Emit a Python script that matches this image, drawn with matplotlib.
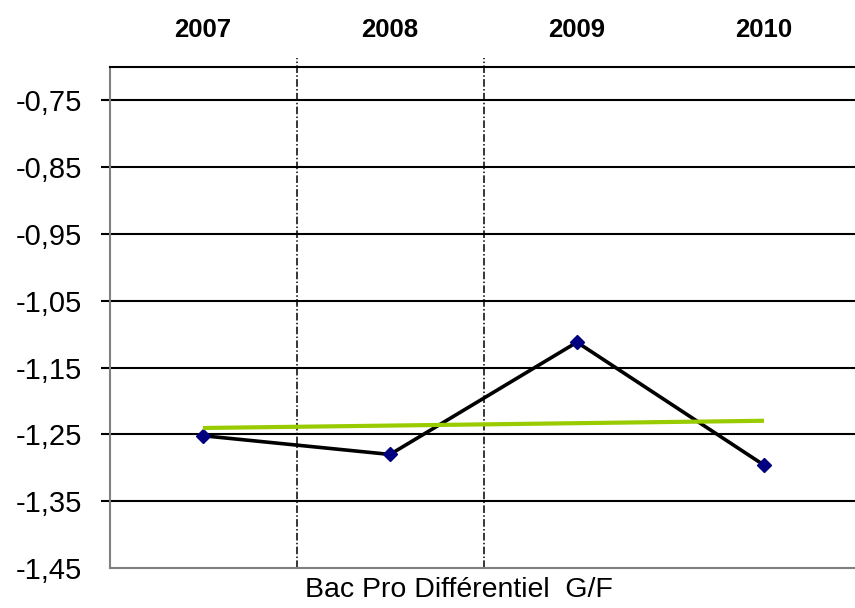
import numpy as np
import matplotlib
matplotlib.use("Agg")
from matplotlib import pyplot as plt
from matplotlib.ticker import FuncFormatter

plt.rcParams['font.family'] = ['Liberation Sans', 'DejaVu Sans']

years = ['2007', '2008', '2009', '2010']
differentiel = [-1.252, -1.280, -1.112, -1.296]
y_ticks = [-0.75, -0.85, -0.95, -1.05, -1.15, -1.25, -1.35, -1.45]
x_title = 'Bac Pro Différentiel  G/F'

x = np.arange(len(years))

fig = plt.figure(figsize=(8.55, 6.08), dpi=100)
ax = fig.add_axes([109.5 / 855, 40 / 608, 748 / 855, 501 / 608])

# horizontal grid at every labelled value
for v in y_ticks[:-1]:
    ax.axhline(v, color='black', lw=1.5, zorder=1)

# dashed separators between the first categories
for b in (0.5, 1.5):
    ax.axvline(b, ymin=0, ymax=1 + 9 / 501, color='black', lw=1.1,
               ls=(0, (5, 1.5, 1, 1.5)), clip_on=False, zorder=1)

ax.plot(x, differentiel, color='black', lw=2.6, zorder=3)
ax.plot(x, differentiel, ls='none', marker='D', ms=7, color='#000080',
        mec='#000080', zorder=4)

# linear trend of the series
slope, inter = np.polyfit(x, differentiel, 1)
ax.plot(x[[0, -1]], slope * x[[0, -1]] + inter, color='#99CC00', lw=3,
        solid_capstyle='butt', zorder=5)

ax.set_xlim(-0.5, 3.5)
ax.set_ylim(-1.45, -0.70)

ax.xaxis.tick_top()
ax.set_xticks(x)
ax.set_xticklabels(years, fontsize=18.5, fontweight='bold')
ax.tick_params(axis='x', length=0, pad=18)

ax.set_yticks(y_ticks)
ax.yaxis.set_major_formatter(FuncFormatter(lambda v, p: f"{v:.2f}".replace('.', ',')))
ax.tick_params(axis='y', length=6.5, width=1.5, color='black', pad=13,
               labelsize=21)
# lowest value sits on the axis itself, no tick mark there
ax.yaxis.get_major_ticks()[-1].tick1line.set_visible(False)

ax.set_xlabel(x_title, fontsize=20.5)
ax.xaxis.set_label_position('bottom')
ax.xaxis.set_label_coords(0.467, -0.018)

ax.spines['top'].set_color('black')
ax.spines['top'].set_linewidth(1.5)
ax.spines['right'].set_visible(False)
for s in ('left', 'bottom'):
    ax.spines[s].set_color('#808080')
    ax.spines[s].set_linewidth(1.5)

fig.savefig('out.png', dpi=100)
